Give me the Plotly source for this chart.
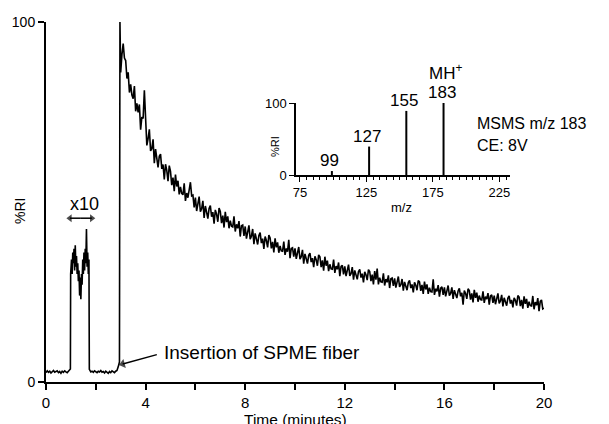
import numpy as np
import plotly.graph_objects as go

# ---------------- data ----------------
# main trace: %RI vs time (minutes)
base1_t = [0.00, 0.05, 0.10, 0.15, 0.20, 0.25, 0.30, 0.35, 0.40, 0.45,
           0.50, 0.55, 0.60, 0.65, 0.70, 0.75, 0.80, 0.85, 0.90, 0.95, 0.98]
base1_v = [2.6, 3.1, 2.7, 3.0, 2.5, 2.9, 3.2, 2.7, 2.8, 3.1,
           2.6, 2.9, 2.4, 3.0, 2.7, 3.1, 2.8, 2.6, 3.0, 3.3, 3.6]

x10_t = [0.990, 1.000, 1.025, 1.050, 1.075, 1.100, 1.125, 1.150, 1.175, 1.200,
         1.225, 1.250, 1.275, 1.300, 1.325, 1.350, 1.375, 1.400, 1.425, 1.450,
         1.475, 1.500, 1.525, 1.550, 1.575, 1.600, 1.625, 1.650, 1.675, 1.700,
         1.725]
x10_v = [30, 31, 34, 30, 36, 33, 37, 31, 38, 32,
         35, 30, 33, 28, 31, 24, 29, 23, 30, 27,
         34, 30, 36, 31, 37, 33, 42.5, 32, 36, 30,
         34]

base2_t = [1.74, 1.75, 1.80, 1.85, 1.90, 1.95, 2.00, 2.05, 2.10, 2.15, 2.20,
           2.25, 2.30, 2.35, 2.40, 2.45, 2.50, 2.55, 2.60, 2.65, 2.70,
           2.75, 2.80, 2.85, 2.90, 2.93, 2.95, 2.97]
base2_v = [3.5, 3.3, 2.8, 3.0, 2.7, 3.1, 2.9, 2.6, 3.0, 2.8, 3.2,
           2.7, 2.9, 2.5, 3.0, 2.7, 2.4, 2.9, 2.6, 3.1, 2.8,
           2.6, 3.0, 3.2, 4.2, 5.0, 5.6, 100]

# decay after fiber insertion, one reading every 0.05 min from 3.00 to 20.00
decay_start, decay_step = 3.0, 0.05
decay_v = [
    86, 91, 94, 90, 89.3, 84.3, 86, 80.4, 82.7, 79.7,
    78.7, 82.2, 75.2, 77.4, 74.9, 77.1, 70.1, 73.6, 73.2, 81,
    71, 65.7, 67.6, 70.2, 64.2, 64.8, 67.4, 60.8, 64.7, 62,
    59.6, 62.7, 63.3, 59.2, 60.4, 56.3, 60.5, 58.8, 55.8, 60.1,
    58.5, 54.7, 56.8, 53, 57.6, 54.3, 55.9, 52.1, 54.2, 52.4,
    52, 55.2, 50.3, 52.5, 51.2, 53.4, 55.5, 51.7, 51.9, 48.5,
    51.2, 47.5, 49.2, 51.5, 47.3, 48.1, 50.3, 45.6, 48.9, 47.1,
    45.4, 48.2, 49, 45.9, 47.2, 44, 47.8, 46.6, 44.5, 48.3,
    47.4, 44.1, 46.2, 42.9, 47.3, 44.4, 46, 42.7, 44.8, 43.3,
    43.1, 46, 41.8, 43.8, 42.7, 44.7, 40.4, 43.4, 43.6, 40.6,
    43.2, 39.8, 41.4, 43.5, 39.7, 40.5, 42.5, 38.3, 41.3, 39.8,
    38.2, 40.7, 41.5, 38.6, 39.8, 37, 40.4, 39.3, 37.4, 40.8,
    40, 37.1, 38.9, 36, 39.9, 37.4, 38.8, 35.9, 37.8, 36.4,
    36.3, 39, 35.3, 37.1, 36.2, 39.5, 34.4, 37.1, 37.3, 34.8,
    37.1, 34.2, 35.6, 37.5, 34.1, 34.8, 36.7, 32.9, 35.6, 34.2,
    32.9, 35.2, 35.8, 33.3, 34.4, 31.9, 34.9, 34, 32.3, 35.3,
    34.8, 31.9, 33.8, 30.9, 34.8, 32.3, 33.7, 30.8, 32.7, 31.4,
    31.3, 34, 30.3, 32.2, 31.3, 33.2, 29.4, 32.1, 32.4, 29.9,
    32.1, 29.4, 30.8, 32.6, 29.5, 30.1, 31.9, 28.4, 31, 29.7,
    28.5, 30.7, 31.3, 29, 30.1, 27.7, 30.6, 29.8, 28.3, 31.2,
    30.7, 28, 29.8, 27.1, 30.8, 28.4, 31.5, 27.1, 29, 27.8,
    27.7, 30.2, 26.8, 28.6, 27.7, 29.6, 26.1, 28.7, 28.9, 26.7,
    28.8, 26.2, 27.5, 29.3, 26.4, 27, 28.6, 25.4, 27.8, 26.7,
    25.5, 27.6, 28.2, 26.1, 27.1, 24.9, 27.7, 26.9, 25.5, 28.2,
    27.8, 25.3, 27, 24.5, 27.9, 25.7, 27.1, 24.5, 26.2, 25.1,
    25, 28.5, 24.2, 25.9, 25.2, 26.9, 23.7, 26.1, 26.4, 24.2,
    26.3, 23.8, 25.1, 26.8, 24, 24.6, 26.3, 23.1, 25.5, 24.4,
    23.3, 25.3, 26, 23.8, 24.8, 21.5, 25.4, 24.6, 23.1, 25.9,
    25.4, 22.9, 24.6, 22.1, 25.6, 23.4, 24.8, 22.3, 24, 22.9,
    22.8, 25.2, 22, 23.7, 23, 24.7, 21.5, 23.9, 24.2, 22,
    24, 21.6, 22.9, 24.6, 21.8, 22.5, 24.2, 21, 23.4, 22.3,
    21.2, 23.3, 23.9, 21.8, 22.8, 20.7, 23.4, 22.7, 21.2, 24,
    23.6, 21.1, 22.8, 20.4, 23.8, 21.7, 23.1, 20.6, 22.3, 21.2,
    21.1, 23.9, 20.2, 22.2, 21.3, 23.3, 19.7, 22.4, 22.8, 20.3,
    20.5,
]
decay_t = list(np.round(decay_start + decay_step * np.arange(len(decay_v)), 3))

time_min = base1_t + x10_t + base2_t + decay_t
ri_pct = base1_v + x10_v + base2_v + decay_v

# inset MS/MS spectrum
ms_mz = [99, 127, 155, 183]
ms_int = [5.5, 39.5, 89, 100]
ms_labels = ["99", "127", "155", "183"]
ms_label_y = [20, 53, 104, 114]

main_xticks_labeled = [0, 4, 8, 12, 16, 20]
inset_xticks_labeled = [75, 125, 175, 225]

# annotation arrows (data coordinates: time, %RI)
x10_arrow_t = [0.96, 1.84]
x10_arrow_y = 45.5
insert_arrow_t = [4.45, 3.08]
insert_arrow_y = [7.6, 5.0]

# ---------------- figure ----------------
FONT = "Liberation Sans, Arial, Helvetica, sans-serif"
W, H = 609, 424
ML, MR, MT, MB = 46, 65, 22, 42

fig = go.Figure()
fig.add_trace(go.Scatter(x=time_min, y=ri_pct, mode="lines",
                         line=dict(color="black", width=1.6),
                         cliponaxis=False, showlegend=False, hoverinfo="skip"))

stem_x, stem_y = [], []
for m, v in zip(ms_mz, ms_int):
    stem_x += [m, m, None]
    stem_y += [0, v, None]
fig.add_trace(go.Scatter(x=stem_x, y=stem_y, mode="lines", xaxis="x2", yaxis="y2",
                         line=dict(color="black", width=2), cliponaxis=False,
                         showlegend=False, hoverinfo="skip"))

# arrows drawn as line + arrow-head marker
x10_mid = sum(x10_arrow_t) / 2
for end in x10_arrow_t:
    fig.add_trace(go.Scatter(x=[x10_mid, end], y=[x10_arrow_y, x10_arrow_y],
                             mode="lines+markers", line=dict(color="black", width=1.5),
                             marker=dict(symbol="triangle-up", size=[0, 7],
                                         angleref="previous", color="black",
                                         line=dict(width=0)),
                             cliponaxis=False, showlegend=False, hoverinfo="skip"))
fig.add_trace(go.Scatter(x=insert_arrow_t, y=insert_arrow_y,
                         mode="lines+markers", line=dict(color="black", width=1.5),
                         marker=dict(symbol="triangle-up", size=[0, 8],
                                     angleref="previous", color="black",
                                     line=dict(width=0)),
                         cliponaxis=False, showlegend=False, hoverinfo="skip"))

pw = W - ML - MR
ph = H - MT - MB
def px_x(p):
    return (p - ML) / pw
def px_y(p):
    return (H - MB - p) / ph

inset_xdom = [px_x(296), px_x(510)]
inset_ydom = [px_y(175), px_y(103)]
def inset_paper_y(v):
    return inset_ydom[0] + v / 100.0 * (inset_ydom[1] - inset_ydom[0])

axis_common = dict(showgrid=False, zeroline=False, showline=True, linecolor="black",
                   ticks="outside", tickcolor="black", color="black")

fig.update_layout(
    width=W, height=H,
    margin=dict(l=ML, r=MR, t=MT, b=MB),
    paper_bgcolor="white", plot_bgcolor="white",
    font=dict(family=FONT, color="black", size=15),
    xaxis=dict(axis_common, range=[0, 20], tickvals=main_xticks_labeled,
               linewidth=2, tickwidth=1.5, ticklen=6, tickfont=dict(size=15),
               minor=dict(tickmode="linear", tick0=0, dtick=2, ticks="outside",
                          ticklen=6, tickcolor="black", tickwidth=1.5),
               domain=[0, 1]),
    yaxis=dict(axis_common, range=[0, 100], tickvals=[0, 100],
               linewidth=2, tickwidth=1.5, ticklen=6, tickfont=dict(size=14),
               domain=[0, 1]),
    xaxis2=dict(axis_common, anchor="y2", range=[72, 233], tickvals=inset_xticks_labeled,
                linewidth=1.5, tickwidth=1.2, ticklen=5, tickfont=dict(size=13),
                minor=dict(tickmode="linear", tick0=0, dtick=5, ticks="outside",
                           ticklen=3, tickcolor="black", tickwidth=1),
                domain=inset_xdom),
    yaxis2=dict(axis_common, anchor="x2", range=[0, 100], tickvals=[0, 100],
                linewidth=1.5, tickwidth=1.2, ticklen=5, tickfont=dict(size=13),
                domain=inset_ydom),
)

ann = []
ann.append(dict(text="Time (minutes)", x=px_x(295), y=px_y(419), xref="paper", yref="paper",
                showarrow=False, font=dict(size=15.5), xanchor="center", yanchor="middle"))
ann.append(dict(text="%RI", x=px_x(20), y=px_y(211), xref="paper", yref="paper",
                showarrow=False, font=dict(size=14), textangle=-90,
                xanchor="center", yanchor="middle"))
ann.append(dict(text="x10", x=1.55, y=49.5, xref="x", yref="y", showarrow=False,
                font=dict(size=18), xanchor="center", yanchor="middle"))
ann.append(dict(text="Insertion of SPME fiber", x=4.65, y=8.2, xref="x", yref="y",
                showarrow=False, font=dict(size=19), xanchor="left", yanchor="middle"))
for m, lab, ly in zip(ms_mz, ms_labels, ms_label_y):
    ann.append(dict(text=lab, x=m - 1.5, y=inset_paper_y(ly), xref="x2", yref="paper",
                    showarrow=False, font=dict(size=17), xanchor="center", yanchor="middle"))
ann.append(dict(text="MH<sup>+</sup>", x=184.5, y=inset_paper_y(143), xref="x2", yref="paper",
                showarrow=False, font=dict(size=17), xanchor="center", yanchor="middle"))
ann.append(dict(text="%RI", x=px_x(275), y=px_y(147), xref="paper", yref="paper",
                showarrow=False, font=dict(size=11), textangle=-90,
                xanchor="center", yanchor="middle"))
ann.append(dict(text="m/z", x=px_x(401), y=px_y(208), xref="paper", yref="paper",
                showarrow=False, font=dict(size=13), xanchor="center", yanchor="middle"))
ann.append(dict(text="MSMS m/z 183", x=px_x(475), y=px_y(123), xref="paper", yref="paper",
                showarrow=False, font=dict(size=16), xanchor="left", yanchor="middle"))
ann.append(dict(text="CE: 8V", x=px_x(475), y=px_y(145), xref="paper", yref="paper",
                showarrow=False, font=dict(size=16), xanchor="left", yanchor="middle"))
fig.update_layout(annotations=ann)

fig.write_html("out.html", config={"displayModeBar": False},
               post_script="document.body.style.margin='0px';")
